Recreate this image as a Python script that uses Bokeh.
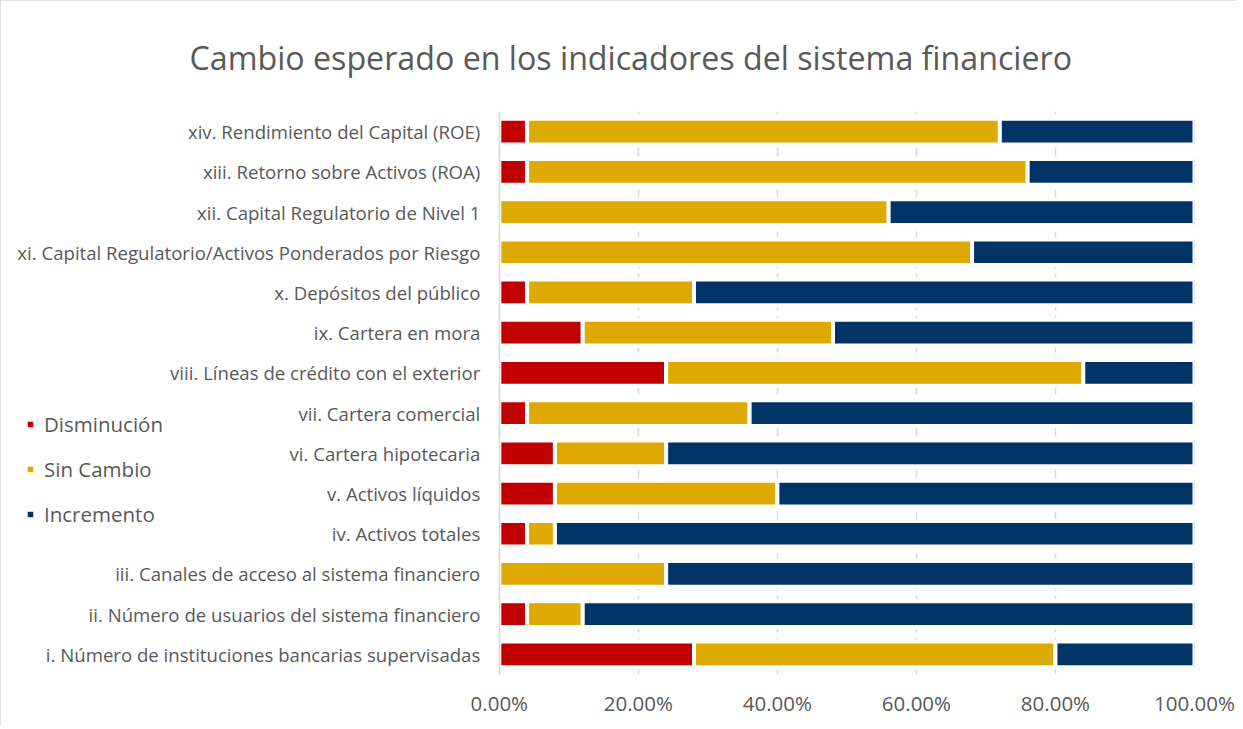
from bokeh.plotting import figure
from bokeh.models import FactorRange, Range1d, FixedTicker, PrintfTickFormatter, Legend, LegendItem, Title
from bokeh.embed import file_html
from bokeh.resources import INLINE

categories = [
    "i. Número de instituciones bancarias supervisadas",
    "ii. Número de usuarios del sistema financiero",
    "iii. Canales de acceso al sistema financiero",
    "iv. Activos totales",
    "v. Activos líquidos",
    "vi. Cartera hipotecaria",
    "vii. Cartera comercial",
    "viii. Líneas de crédito con el exterior",
    "ix. Cartera en mora",
    "x. Depósitos del público",
    "xi. Capital Regulatorio/Activos Ponderados por Riesgo",
    "xii. Capital Regulatorio de Nivel 1",
    "xiii. Retorno sobre Activos (ROA)",
    "xiv. Rendimiento del Capital (ROE)",
]
disminucion = [28, 4, 0, 4, 8, 8, 4, 24, 12, 4, 0, 0, 4, 4]
sin_cambio = [52, 8, 24, 4, 32, 16, 32, 60, 36, 24, 68, 56, 72, 68]
incremento = [20, 88, 76, 92, 60, 76, 64, 16, 52, 72, 32, 44, 24, 28]
series_names = ["Disminución", "Sin Cambio", "Incremento"]
colors = ["#C00000", "#DEA900", "#003366"]
x_ticks = [0, 20, 40, 60, 80, 100]

TXT = "#595959"
FONT = "Open Sans"

data = dict(cat=categories, d=disminucion, s=sin_cambio, i=incremento)

# frame spans the whole width; the category axis is pinned at x = 0
p = figure(width=1236, height=725, y_range=FactorRange(*categories),
           x_range=Range1d(-70.46, 100), output_backend="svg", toolbar_location=None,
           min_border_left=9, min_border_right=42, min_border_top=109, min_border_bottom=51)

rs = p.hbar_stack(["d", "s", "i"], y="cat", height=0.64, color=colors,
                  line_color="white", line_width=4, source=data)

p.title = Title(text="Cambio esperado en los indicadores del sistema financiero",
                align="left", offset=180, text_font_size="32.2px", text_color=TXT,
                text_font=FONT, text_font_style="normal", standoff=66)

p.xgrid.ticker = FixedTicker(ticks=x_ticks)
p.xgrid.grid_line_color = "#D9D9D9"
p.xgrid.grid_line_width = 1.5
p.xgrid.grid_line_dash = "9 5"
p.ygrid.grid_line_color = None

p.xaxis.ticker = FixedTicker(ticks=x_ticks)
p.xaxis.formatter = PrintfTickFormatter(format="%.2f%%")
p.xaxis.axis_line_color = None
p.xaxis.major_tick_line_color = None
p.xaxis.minor_tick_line_color = None
p.xaxis.major_label_text_font_size = "20.5px"
p.xaxis.major_label_text_color = TXT
p.xaxis.major_label_text_font = FONT
p.xaxis.major_label_standoff = 8

p.yaxis.fixed_location = 0
p.yaxis.axis_line_color = "#D9D9D9"
p.yaxis.axis_line_width = 1.5
p.yaxis.major_tick_line_color = None
p.yaxis.minor_tick_line_color = None
p.yaxis.major_label_text_font_size = "18.6px"
p.yaxis.major_label_text_color = TXT
p.yaxis.major_label_text_font = FONT
p.yaxis.major_label_standoff = 13

p.outline_line_color = None

legend = Legend(items=[LegendItem(label=n, renderers=[r]) for n, r in zip(series_names, rs)],
                location=(15, 146), orientation="vertical",
                glyph_width=12, glyph_height=12, label_height=27, spacing=17,
                padding=0, margin=0, border_line_color=None, background_fill_alpha=0,
                label_text_font_size="20.5px", label_text_color=TXT, label_text_font=FONT,
                label_standoff=8)
p.add_layout(legend, "center")

p.styles = {"outline": "1px solid #D9D9D9", "outline-offset": "-1px"}

open("out.html", "w").write(file_html(p, INLINE))
